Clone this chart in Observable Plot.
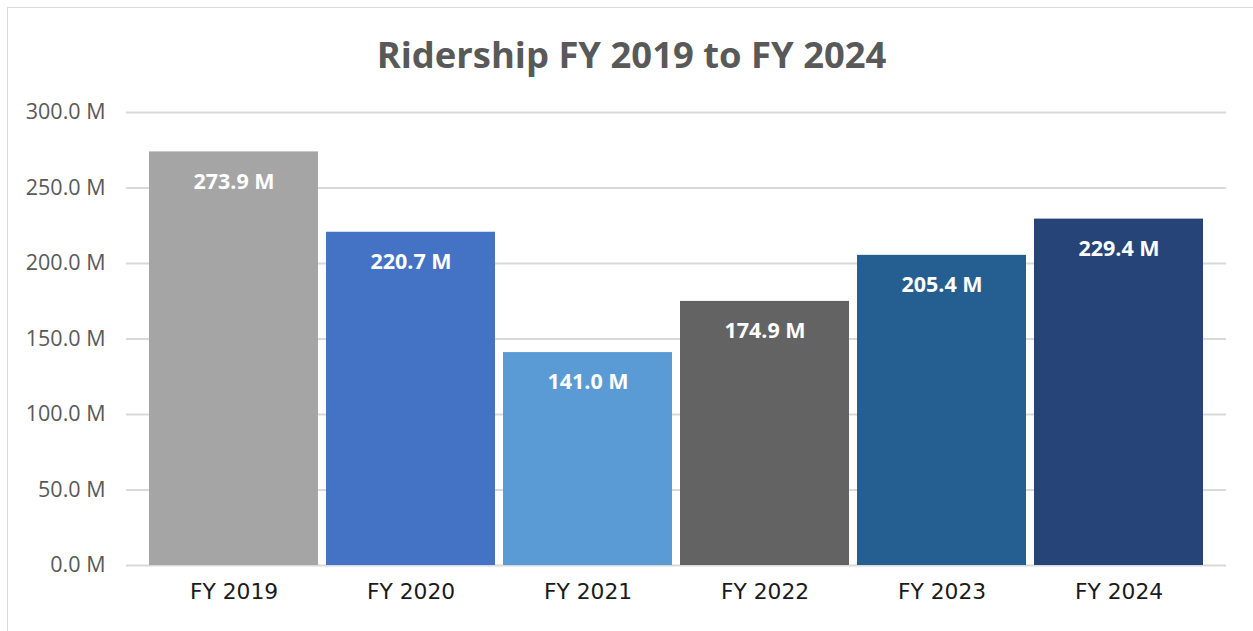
<!DOCTYPE html>
<html>
<head>
<meta charset="utf-8">
<script src="https://cdn.jsdelivr.net/npm/d3@7"></script>
<script src="https://cdn.jsdelivr.net/npm/@observablehq/plot@0.6"></script>
<style>
  html, body { margin: 0; padding: 0; background: #fff; overflow: hidden; }
  #wrap { position: relative; width: 1253px; height: 631px; overflow: hidden; }
  #frame { position: absolute; left: 7px; top: 7px; width: 1260px; height: 640px; border: 1px solid #d9d9d9; box-sizing: border-box; }
  #title { position: absolute; left: 0; width: 1263px; top: 30px; text-align: center;
           font-family: "Open Sans", sans-serif; font-weight: 700; font-size: 36.4px; color: #595959; line-height: 48px; }
  #chart { position: absolute; left: 0; top: 0; }
</style>
</head>
<body>
<div id="wrap">
  <div id="frame"></div>
  <div id="title">Ridership FY 2019 to FY 2024</div>
  <div id="chart"></div>
</div>
<script>
const years = ["FY 2019", "FY 2020", "FY 2021", "FY 2022", "FY 2023", "FY 2024"];
const ridership = [273.9, 220.7, 141.0, 174.9, 205.4, 229.4];
const colors = ["#a5a5a5", "#4472c4", "#5b9bd5", "#636363", "#255e91", "#264478"];
const yTicks = [0, 50, 100, 150, 200, 250, 300];

const data = years.map((y, i) => ({year: y, value: ridership[i]}));

const chart = Plot.plot({
  width: 1253,
  height: 631,
  marginTop: 112,
  marginBottom: 66,
  marginLeft: 126,
  marginRight: 27,
  style: {background: "transparent", overflow: "visible"},
  x: {domain: years, paddingInner: 0.047, paddingOuter: 0.124, label: null, tickSize: 0},
  y: {domain: [0, 300], label: null, tickSize: 0},
  color: {domain: years, range: colors},
  marks: [
    Plot.ruleY(yTicks, {stroke: "#d9d9d9", strokeWidth: 2}),
    Plot.barY(data, {x: "year", y: "value", fill: "year"}),
    Plot.text(data, {x: "year", y: "value", text: d => d.value.toFixed(1) + " M", dy: 30,
      fill: "white", fontWeight: 700, fontSize: 21.5, fontFamily: "Open Sans"}),
    Plot.axisY(yTicks, {tickSize: 0, tickPadding: 21, tickFormat: d => d.toFixed(1) + " M",
      fontSize: 21.5, fontFamily: "Open Sans", fill: "#595959"}),
    Plot.axisX({tickSize: 0, tickPadding: 18, fontSize: 21.8, fontFamily: "DejaVu Sans", fill: "#1a1a1a"})
  ]
});
document.getElementById("chart").appendChild(chart);
</script>
</body>
</html>
